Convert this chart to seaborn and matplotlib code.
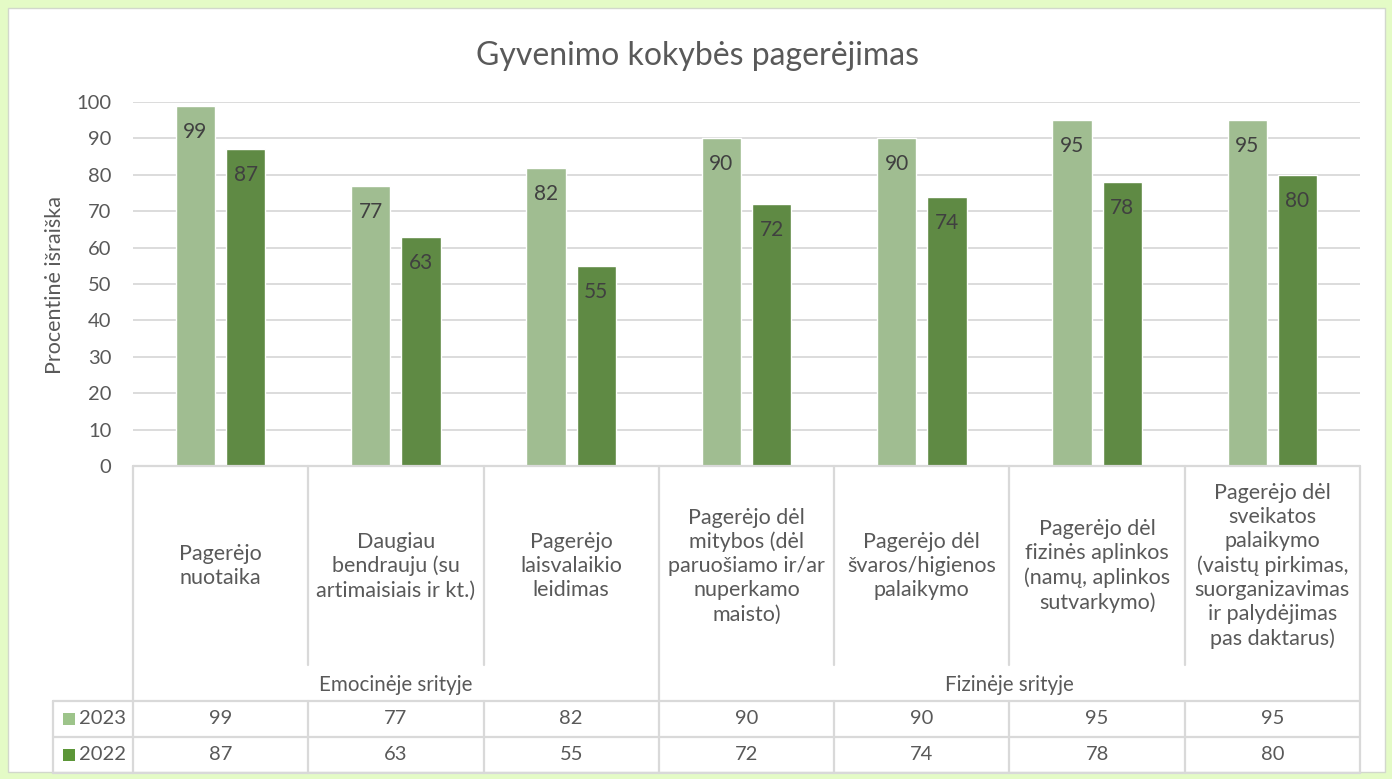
import seaborn as sns
import pandas as pd
import matplotlib.pyplot as plt
from matplotlib.lines import Line2D
from matplotlib.patches import Rectangle
from matplotlib.transforms import blended_transform_factory

# data
categories = ['Pagerėjo\nnuotaika',
              'Daugiau\nbendrauju (su\nartimaisiais ir kt.)',
              'Pagerėjo\nlaisvalaikio\nleidimas',
              'Pagerėjo dėl\nmitybos (dėl\nparuošiamo ir/ar\nnuperkamo\nmaisto)',
              'Pagerėjo dėl\nšvaros/higienos\npalaikymo',
              'Pagerėjo dėl\nfizinės aplinkos\n(namų, aplinkos\nsutvarkymo)',
              'Pagerėjo dėl\nsveikatos\npalaikymo\n(vaistų pirkimas,\nsuorganizavimas\nir palydėjimas\npas daktarus)']
groups = ['Emocinėje srityje', 'Fizinėje srityje']
group_sizes = [3, 4]
years = ['2023', '2022']
values_2023 = [99, 77, 82, 90, 90, 95, 95]
values_2022 = [87, 63, 55, 72, 74, 78, 80]

colors = ['#9dc48a', '#5c9638']
text_color = '#595959'
line_color = '#d9d9d9'

df = pd.DataFrame({
    'cat': list(range(len(categories))) * 2,
    'year': [years[0]] * len(categories) + [years[1]] * len(categories),
    'value': values_2023 + values_2022,
})

sns.set_style('white')
plt.rcParams['font.family'] = ['Lato', 'DejaVu Sans']

W, H = 1392, 779
fig = plt.figure(figsize=(W / 100, H / 100), dpi=100, facecolor='#e4fbc6')

def fx(x):
    return x / W

def fy(y):
    return 1 - y / H

# white chart panel
fig.add_artist(Rectangle((fx(8), fy(772)), fx(1377), 764 / H, transform=fig.transFigure,
                         facecolor='white', edgecolor='#d2d8cc', lw=1, zorder=0))

ax = fig.add_axes([fx(133), fy(466), fx(1360 - 133), (466 - 102) / H])
ax.set_facecolor('none')

sns.barplot(data=df, x='cat', y='value', hue='year', hue_order=years, palette=colors,
            width=0.575, gap=0.22, ax=ax, legend=False, zorder=3)

for container in ax.containers:
    for bar in container:
        h = bar.get_height()
        ax.annotate(f'{h:.0f}', (bar.get_x() + bar.get_width() / 2, h),
                    xytext=(0, -26), textcoords='offset pixels', ha='center', va='center',
                    fontsize=15, color='#404040', zorder=4)

ax.set_xlim(-0.5, len(categories) - 0.5)
ax.set_ylim(0, 100)
ax.set_yticks(range(0, 101, 10))
ax.yaxis.grid(True, color=line_color, lw=1.3, zorder=0)
ax.tick_params(axis='y', length=0, pad=15.5, labelsize=14.5, labelcolor=text_color)
ax.set_xticks([])
ax.set_xlabel('')
ax.set_ylabel('')
for s in ax.spines.values():
    s.set_visible(False)

fig.text(fx(55), fy(285), 'Procentinė išraiška', rotation=90, ha='center', va='center',
         fontsize=15.5, color=text_color)
fig.text(fx(697), fy(56), 'Gyvenimo kokybės pagerėjimas', ha='center', va='center',
         fontsize=23, color=text_color)

# data table below the axis
tr = blended_transform_factory(ax.transData, fig.transFigure)
n = len(categories)

def hline(y, x0, x1):
    fig.add_artist(Line2D([fx(x0), fx(x1)], [fy(y), fy(y)], transform=fig.transFigure,
                          color=line_color, lw=1.6))

def vline(x, y0, y1):
    fig.add_artist(Line2D([x, x], [fy(y0), fy(y1)], transform=tr, color=line_color, lw=1.6))

hline(466, 133, 1360)
for y in [701, 737, 773]:
    hline(y, 53, 1360)
fig.add_artist(Line2D([fx(53), fx(53)], [fy(701), fy(773)], transform=fig.transFigure,
                      color=line_color, lw=1.6))

edges = [i - 0.5 for i in range(n + 1)]
group_edges = [-0.5]
for g in group_sizes:
    group_edges.append(group_edges[-1] + g)
for e in edges:
    if e in group_edges:
        vline(e, 466, 773)
    else:
        vline(e, 466, 665)
        vline(e, 701, 773)

for i, c in enumerate(categories):
    fig.text(i, fy(566), c, transform=tr, ha='center', va='center', fontsize=15.5,
             color=text_color, linespacing=1.25)

for g, name in enumerate(groups):
    mid = (group_edges[g] + group_edges[g + 1]) / 2
    fig.text(mid, fy(685), name, transform=tr, ha='center', va='center', fontsize=14.8,
             color=text_color)

rows = [values_2023, values_2022]
row_y = [719, 755]
for r, vals in enumerate(rows):
    for i, v in enumerate(vals):
        fig.text(i, fy(row_y[r]), str(v), transform=tr, ha='center', va='center',
                 fontsize=14.5, color=text_color)
    fig.add_artist(Rectangle((fx(63), fy(row_y[r] + 6)), fx(12), 12 / H, transform=fig.transFigure,
                             facecolor=colors[r], edgecolor='none'))
    fig.text(fx(79), fy(row_y[r]), years[r], ha='left', va='center', fontsize=14.5,
             color=text_color)

fig.savefig('out.png', dpi=100, facecolor=fig.get_facecolor())
